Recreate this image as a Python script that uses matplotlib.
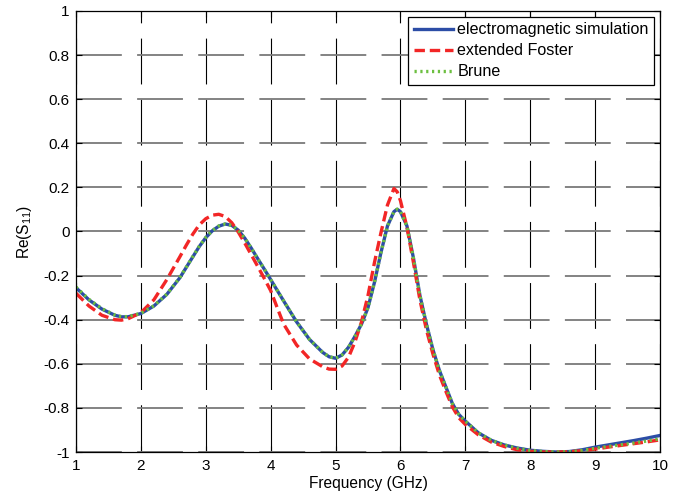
import matplotlib
matplotlib.use("Agg")
import matplotlib.pyplot as plt

# ── data (frequency in GHz, Re(S11)) ──
freq_em = [1.0, 1.2, 1.4, 1.6, 1.7, 1.8, 2.0, 2.2, 2.4, 2.6, 2.8, 2.9, 3.0, 3.1,
           3.2, 3.3, 3.4, 3.5, 3.6, 3.7, 3.8, 3.9, 4.0, 4.2, 4.4, 4.6, 4.8, 4.9,
           5.0, 5.1, 5.2, 5.3, 5.4, 5.5, 5.6, 5.7, 5.8, 5.9, 5.95, 6.0, 6.1, 6.2,
           6.3, 6.4, 6.5, 6.6, 6.7, 6.8, 6.9, 7.0, 7.2, 7.4, 7.6, 7.8, 8.0, 8.2,
           8.4, 8.6, 8.8, 9.0, 9.2, 9.4, 9.6, 9.8, 10.0]
re_em = [-0.255, -0.310, -0.352, -0.380, -0.387, -0.387, -0.372, -0.338, -0.285,
         -0.210, -0.115, -0.068, -0.028, 0.003, 0.024, 0.034, 0.028, 0.006,
         -0.030, -0.075, -0.123, -0.170, -0.218, -0.315, -0.410, -0.490, -0.548,
         -0.568, -0.575, -0.560, -0.525, -0.475, -0.420, -0.345, -0.230, -0.095,
         0.025, 0.090, 0.101, 0.090, 0.025, -0.120, -0.290, -0.420, -0.535,
         -0.630, -0.705, -0.780, -0.830, -0.860, -0.913, -0.947, -0.968, -0.982,
         -0.992, -0.997, -1.000, -0.998, -0.990, -0.978, -0.968, -0.958, -0.948,
         -0.937, -0.925]

freq_brune = freq_em
re_brune = [-0.252, -0.308, -0.350, -0.379, -0.386, -0.386, -0.371, -0.337, -0.284,
            -0.209, -0.114, -0.067, -0.027, 0.004, 0.025, 0.034, 0.028, 0.006,
            -0.030, -0.075, -0.123, -0.170, -0.218, -0.315, -0.410, -0.490, -0.548,
            -0.568, -0.575, -0.560, -0.525, -0.475, -0.420, -0.345, -0.230, -0.095,
            0.025, 0.090, 0.101, 0.090, 0.025, -0.120, -0.290, -0.420, -0.535,
            -0.630, -0.705, -0.780, -0.830, -0.860, -0.913, -0.947, -0.968, -0.983,
            -0.993, -0.998, -1.000, -0.999, -0.993, -0.983, -0.975, -0.967, -0.959,
            -0.950, -0.940]

freq_foster = [1.0, 1.2, 1.4, 1.6, 1.7, 1.8, 2.0, 2.2, 2.4, 2.6, 2.7, 2.8, 2.9, 3.0,
               3.1, 3.2, 3.3, 3.4, 3.5, 3.6, 3.7, 3.8, 3.9, 4.0, 4.1, 4.2, 4.4, 4.6,
               4.8, 4.9, 5.0, 5.1, 5.2, 5.3, 5.4, 5.5, 5.6, 5.7, 5.8, 5.9, 5.95, 6.0,
               6.1, 6.2, 6.3, 6.4, 6.5, 6.6, 6.7, 6.8, 6.9, 7.0, 7.2, 7.4, 7.6, 7.8,
               8.0, 8.2, 8.4, 8.6, 8.8, 9.0, 9.2, 9.4, 9.6, 9.8, 10.0]
re_foster = [-0.280, -0.338, -0.380, -0.400, -0.402, -0.396, -0.368, -0.310, -0.218,
             -0.115, -0.062, -0.012, 0.030, 0.058, 0.074, 0.078, 0.068, 0.040,
             -0.002, -0.052, -0.105, -0.158, -0.212, -0.268, -0.345, -0.420, -0.515,
             -0.578, -0.613, -0.624, -0.625, -0.610, -0.570, -0.500, -0.410, -0.290,
             -0.140, -0.005, 0.120, 0.195, 0.180, 0.140, 0.020, -0.140, -0.310,
             -0.445, -0.555, -0.650, -0.725, -0.795, -0.845, -0.875, -0.922, -0.955,
             -0.975, -0.990, -0.997, -1.000, -1.000, -0.999, -0.994, -0.987, -0.978,
             -0.970, -0.962, -0.954, -0.945]

x_ticks = [1, 2, 3, 4, 5, 6, 7, 8, 9, 10]
y_ticks = [-1, -0.8, -0.6, -0.4, -0.2, 0, 0.2, 0.4, 0.6, 0.8, 1]
y_tick_labels = ["-1", "-0.8", "-0.6", "-0.4", "-0.2", "0", "0.2", "0.4", "0.6", "0.8", "1"]

plt.rcParams["font.family"] = ["Liberation Sans", "DejaVu Sans"]
plt.rcParams["lines.scale_dashes"] = False

fig = plt.figure(figsize=(6.84, 4.98), dpi=100)
ax = fig.add_axes([76 / 684, 46 / 498, 584 / 684, 441 / 498])

# MATLAB-style dashed grid: gray horizontals, black verticals
ax.yaxis.grid(True, color="#7a7a7a", linewidth=1.3, linestyle=(0, (33, 11)))
ax.xaxis.grid(True, color="black", linewidth=0.8, linestyle=(43, (33, 11)))
ax.set_axisbelow(True)

ax.plot(freq_em, re_em, color="#2c4da6", linewidth=2.4,
        label="electromagnetic simulation", zorder=3)
ax.plot(freq_foster, re_foster, color="#f22626", linewidth=2.4,
        linestyle=(0, (7.5, 3.5)), label="extended Foster", zorder=4)
ax.plot(freq_brune, re_brune, color="#6cbf40", linewidth=2.4,
        linestyle=(0, (1.6, 2.6)), label="Brune", zorder=5)

ax.set_xlim(1, 10)
ax.set_ylim(-1, 1)
ax.set_xticks(x_ticks)
ax.set_yticks(y_ticks)
ax.set_yticklabels(y_tick_labels)
ax.tick_params(direction="in", length=4, width=0.8, top=True, right=True,
               labelsize=11, color="black")
ax.tick_params(axis="x", pad=5)
ax.tick_params(axis="y", pad=4.5)
for sp in ax.spines.values():
    sp.set_linewidth(0.9)
    sp.set_zorder(6)

ax.set_xlabel("Frequency (GHz)", fontsize=11.2, labelpad=2)
ax.set_ylabel(r"Re(S$_{\mathregular{11}}$)", fontsize=11.2, labelpad=7)

leg = ax.legend(loc="upper right", fontsize=11.6, frameon=True, fancybox=False,
                edgecolor="black", framealpha=1, borderaxespad=0.35,
                handlelength=2.4, handletextpad=0.3, labelspacing=0.37,
                borderpad=0.35)
leg.get_frame().set_linewidth(0.9)

fig.savefig("out.png", dpi=100)
